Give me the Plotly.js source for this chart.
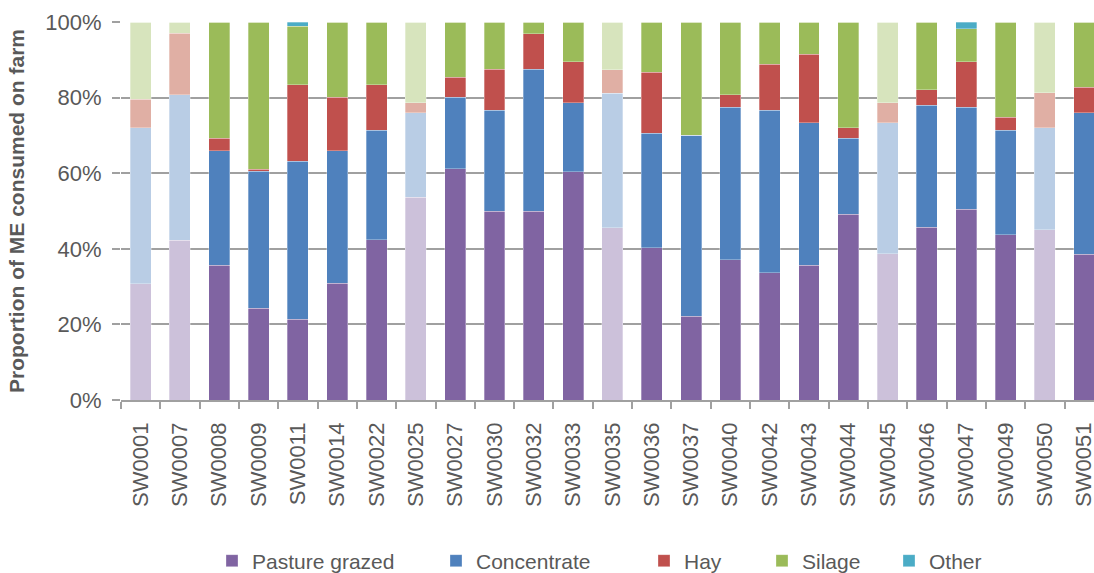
<!DOCTYPE html>
<html>
<head>
<meta charset="utf-8">
<script src="https://cdn.plot.ly/plotly-3.0.1.min.js"></script>
<style>html,body{margin:0;padding:0;background:#fff;}#chart{width:1094px;height:573px;}</style>
</head>
<body>
<div id="chart"></div>
<script>
const categories = ['SW0001','SW0007','SW0008','SW0009','SW0011','SW0014','SW0022','SW0025','SW0027','SW0030','SW0032','SW0033','SW0035','SW0036','SW0037','SW0040','SW0042','SW0043','SW0044','SW0045','SW0046','SW0047','SW0049','SW0050','SW0051'];
const pastureGrazed = [30.7,42.3,35.6,24.3,21.4,30.9,42.4,53.6,61.2,49.9,49.9,60.4,45.6,40.3,22.2,37.1,33.7,35.6,49.1,38.7,45.7,50.4,43.7,45.0,38.5];
const concentrate   = [41.3,38.5,30.4,36.2,41.8,35.1,28.9,22.4,18.9,26.8,37.6,18.3,35.6,30.3,47.8,40.3,43.0,37.7,20.2,34.6,32.3,27.0,27.6,27.0,37.5];
const hay           = [7.5,16.2,3.3,0.6,20.2,14.1,12.1,2.7,5.3,10.8,9.4,10.8,6.2,16.1,0,3.3,12.1,18.2,2.7,5.4,4.1,12.1,3.5,9.3,6.7];
const silage        = [20.5,3.0,30.7,38.9,15.5,19.9,16.6,21.3,14.6,12.5,3.1,10.5,12.6,13.3,30.0,19.3,11.2,8.5,28.0,21.3,17.9,8.7,25.2,18.7,17.3];
const other         = [0,0,0,0,1.1,0,0,0,0,0,0,0,0,0,0,0,0,0,0,0,0,1.8,0,0,0];
// farms drawn in pale shades
const paleFarms = ['SW0001','SW0007','SW0025','SW0035','SW0045','SW0050'];

const seriesNames = ['Pasture grazed','Concentrate','Hay','Silage','Other'];
const seriesValues = [pastureGrazed, concentrate, hay, silage, other];
const fullColors = ['#8064a2','#4f81bd','#c0504d','#9bbb59','#4bacc6'];
const paleColors = ['#ccc1da','#b9cde5','#e0afa4','#d7e4bd','#b7dee8'];
const legendIds = ['legend','legend2','legend3','legend4','legend5'];
const legendX = [212, 436, 644, 762, 889];

const isPale = categories.map(c => paleFarms.includes(c));
const traces = [];
seriesNames.forEach((name, i) => {
  traces.push({
    type: 'bar', name: name, x: categories,
    y: seriesValues[i].map((v, k) => isPale[k] ? null : v),
    marker: {color: fullColors[i], line: {width: 0.6, color: 'rgba(255,255,255,0.5)'}},
    legend: legendIds[i], hoverinfo: 'x+y+name'
  });
});
seriesNames.forEach((name, i) => {
  traces.push({
    type: 'bar', name: name + ' (pale)', x: categories,
    y: seriesValues[i].map((v, k) => isPale[k] ? v : null),
    marker: {color: paleColors[i], line: {width: 0.6, color: 'rgba(255,255,255,0.5)'}},
    showlegend: false, hoverinfo: 'x+y+name'
  });
});

const layout = {
  width: 1094, height: 573,
  margin: {l: 121, r: 0, t: 22, b: 173},
  paper_bgcolor: '#fff', plot_bgcolor: '#fff',
  barmode: 'stack', bargap: 0.467,
  font: {family: 'Liberation Sans, Arial, sans-serif', size: 22, color: '#595959'},
  xaxis: {
    type: 'category', range: [-0.5, 24.25],
    showline: true, linecolor: '#a0a0a0', linewidth: 1.5,
    ticks: 'outside', ticklen: 7, tickcolor: '#a0a0a0', tickwidth: 1.5,
    tickson: 'boundaries', tickangle: -90, ticklabelstandoff: 12,
    tickfont: {size: 22, color: '#595959'}, showgrid: false
  },
  yaxis: {
    range: [0, 100], dtick: 20, ticksuffix: '%',
    showgrid: true, gridcolor: '#a0a0a0', gridwidth: 1.5,
    zeroline: false, showline: false,
    ticks: 'outside', ticklen: 8, tickcolor: '#a0a0a0', tickwidth: 1.5,
    ticklabelstandoff: 6,
    tickfont: {size: 22, color: '#595959'},
    title: {text: 'Proportion of ME consumed on farm', font: {size: 21, color: '#595959', family: 'Liberation Sans, Arial, sans-serif', weight: 'bold'}, standoff: 14}
  },
  showlegend: true
};
legendIds.forEach((id, i) => {
  layout[id] = {
    orientation: 'h', xref: 'container', yref: 'container',
    x: legendX[i] / 1094, y: (573 - 561) / 573, xanchor: 'left', yanchor: 'middle',
    font: {size: 21, color: '#595959'}, bgcolor: 'rgba(0,0,0,0)', borderwidth: 0
  };
});

Plotly.newPlot('chart', traces, layout, {displayModeBar: false, responsive: false});
</script>
</body>
</html>
